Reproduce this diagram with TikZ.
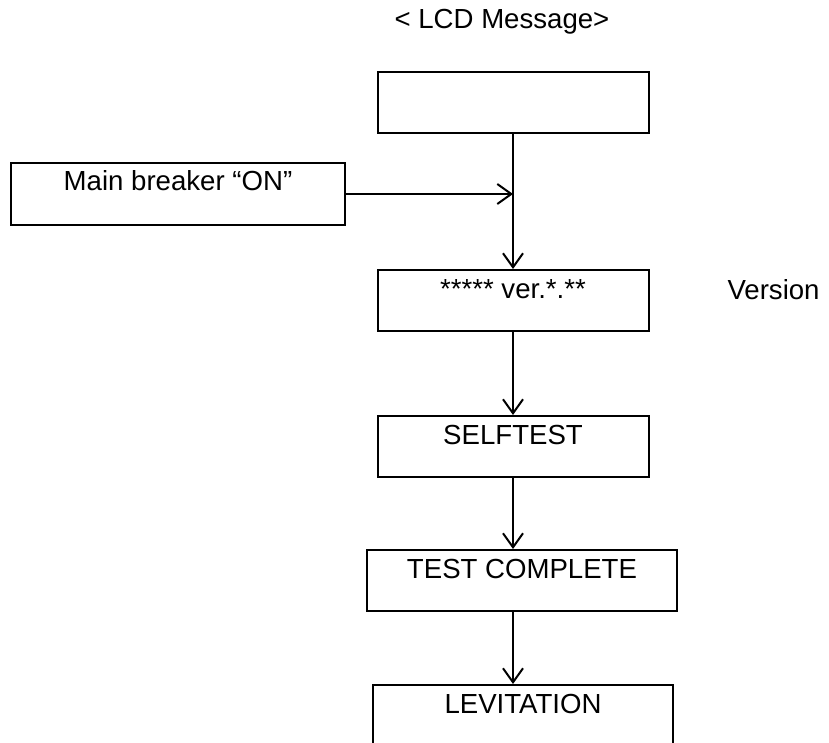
\documentclass[tikz,border=0pt]{standalone}
\usepackage{fontspec}
\setmainfont{Liberation Sans}
\usetikzlibrary{arrows.meta}

\tikzset{
  lcdbox/.style={draw, line width=2pt, inner sep=0pt, anchor=north,
    minimum width=271pt, text height=28pt, text depth=33pt},
  flow/.style={line width=2pt, -{Straight Barb[length=14pt,width=20pt,line width=2pt]}}
}

\begin{document}
\begin{tikzpicture}[x=1pt, y=-1pt, font=\fontsize{27.6}{32}\selectfont]
  \useasboundingbox (0,0) rectangle (829,743);
  \clip (0,0) rectangle (829,743);

  \node (title) at (502,22) {< LCD Message>};

  \node[lcdbox] (blank) at (513,71) {};
  \node[lcdbox, minimum width=334pt, text depth=34pt] (breaker) at (178,162) {Main breaker “ON”};
  \node[lcdbox] (ver) at (513,269) {***** ver.*.**};
  \node[anchor=west] (version) at (724,290) {Version};
  \node[lcdbox] (self) at (513,415) {SELFTEST};
  \node[lcdbox, minimum width=310pt] (done) at (522,549) {TEST COMPLETE};
  \node[lcdbox, minimum width=300pt, text depth=60pt] (lev) at (523,684) {LEVITATION};

  \coordinate (join) at (blank.south |- breaker.east);

  % arrows down the column
  \draw[flow] (blank.south) -- (blank.south |- ver.north);
  \draw[flow] (breaker.east) -- (join);
  \draw[flow] (ver.south) -- (ver.south |- self.north);
  \draw[flow] (self.south) -- (self.south |- done.north);
  \draw[flow] (self.south |- done.south) -- (self.south |- lev.north);
\end{tikzpicture}
\end{document}
